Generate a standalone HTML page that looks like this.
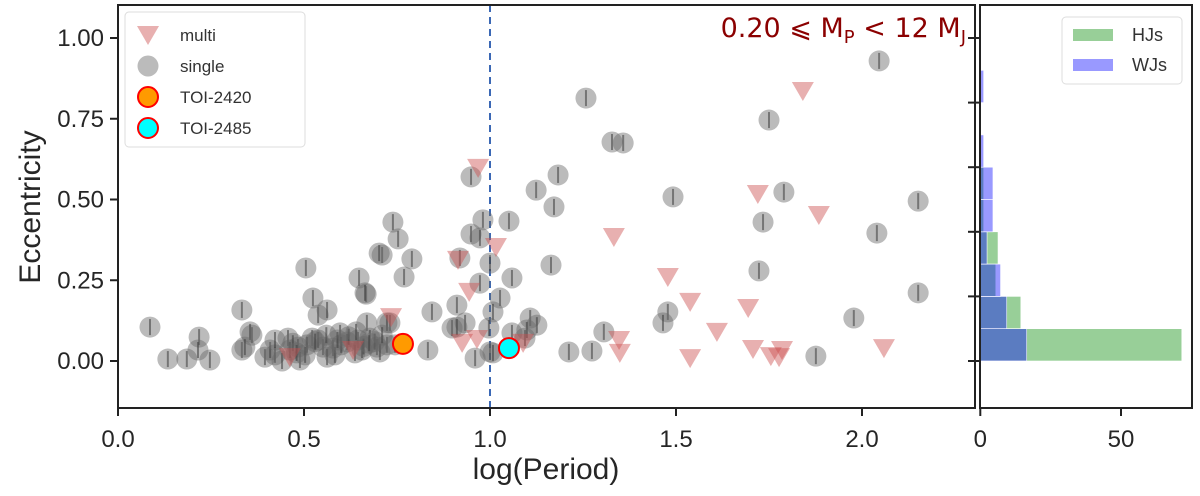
<!DOCTYPE html>
<html><head><meta charset="utf-8"><style>
html,body{margin:0;padding:0;background:#fff;}
svg{display:block;font-family:"Liberation Sans","DejaVu Sans",sans-serif;}
</style></head><body>
<svg id="chart" width="1200" height="496" viewBox="0 0 1200 496">
<g id="main-marks"></g>
<g id="hist-marks"></g>
<g id="axes"></g>
</svg>
<script>
// ---- scatter data ----
const singleLogP = [2.046,1.258,1.750,1.328,1.358,1.183,1.124,1.172,1.051,0.981,1.492,1.790,2.151,1.734,2.040,1.164,1.723,1.000,1.059,1.027,1.008,1.108,1.126,0.997,1.059,1.094,2.151,1.978,1.478,1.465,1.306,1.212,1.274,1.876,1.000,
0.949,0.739,0.753,0.949,0.973,0.710,0.790,0.919,0.769,0.973,0.911,0.844,0.898,0.933,1.099,0.833,0.960,1.008,
0.702,0.648,0.667,0.669,0.731,0.911,
0.086,0.134,0.185,0.218,0.215,0.247,0.333,0.333,0.360,0.505,0.524,0.538,0.562,
0.355,0.341,0.395,0.422,0.457,0.484,0.522,0.551,0.578,0.597,0.616,0.645,0.677,0.696,0.723,0.723,0.664,0.508,0.562,0.409,0.441,0.489,0.637,
0.462,0.503,0.538,0.583,0.656,0.704,0.745,0.422,
0.470,0.530,0.560,0.600,0.620,0.660,0.690,0.710,0.480,0.590,0.640,0.675];
const singleEcc = [0.929,0.814,0.746,0.678,0.675,0.576,0.529,0.477,0.433,0.437,0.508,0.523,0.495,0.430,0.396,0.297,0.279,0.303,0.257,0.195,0.152,0.133,0.111,0.102,0.087,0.071,0.211,0.133,0.152,0.118,0.090,0.028,0.031,0.015,0.028,
0.570,0.430,0.378,0.393,0.381,0.328,0.316,0.319,0.260,0.241,0.173,0.152,0.102,0.118,0.096,0.034,0.009,0.025,
0.334,0.257,0.207,0.118,0.118,0.105,
0.105,0.006,0.006,0.074,0.034,0.003,0.158,0.034,0.080,0.288,0.195,0.142,0.158,
0.090,0.043,0.012,0.019,0.071,0.043,0.071,0.043,0.040,0.087,0.059,0.065,0.071,0.043,0.118,0.050,0.211,0.050,0.012,0.034,0.000,0.003,0.025,
0.034,0.019,0.065,0.019,0.034,0.028,0.050,0.065,
0.055,0.060,0.080,0.050,0.075,0.045,0.060,0.080,0.025,0.065,0.090,0.055];
const multiLogP = [1.841,1.720,1.884,1.333,1.016,0.968,1.478,1.538,1.694,1.610,1.347,1.349,1.538,1.707,1.755,1.785,1.777,2.059,0.914,0.944,0.734,0.925,0.965,1.089,0.462,0.632];
const multiEcc = [0.836,0.517,0.452,0.384,0.353,0.598,0.260,0.183,0.164,0.090,0.065,0.025,0.009,0.037,0.015,0.034,0.012,0.040,0.313,0.214,0.136,0.056,0.068,0.056,0.012,0.034];
const toi2420 = [0.766,0.053];
const toi2485 = [1.051,0.040];
const xTicks = [0.0,0.5,1.0,1.5,2.0];
const xTickLabels = ["0.0","0.5","1.0","1.5","2.0"];
const yTicks = [0.0,0.25,0.5,0.75,1.0];
const yTickLabels = ["0.00","0.25","0.50","0.75","1.00"];
// ---- histogram data ----
const binEdges = [0,0.1,0.2,0.3,0.4,0.5,0.6,0.7,0.8,0.9,1.0];
const hjCounts = [71.6,14.4,5.5,6.3,1.2,1.2,0,0,0,0];
const wjCounts = [16.5,9.4,7.2,2.4,4.5,4.5,1.2,0,1.2,0.3];
const histXTicks = [0,50];
const histXTickLabels = ["0","50"];
const histYTicks = [0,0.2,0.4,0.6,0.8,1.0];

const NS="http://www.w3.org/2000/svg";
function mk(tag,attrs,parent){const e=document.createElementNS(NS,tag);for(const k in attrs)e.setAttribute(k,attrs[k]);parent.appendChild(e);return e;}
const X=v=>118+372*v;
const Y=v=>361-323*v;
const HX=v=>980.3+2.814*v;
const main=document.getElementById('main-marks');
const hist=document.getElementById('hist-marks');
const axes=document.getElementById('axes');

let dl=mk('line',{x1:X(1),x2:X(1),y1:5,y2:408,stroke:'#3b68b5','stroke-width':2,'stroke-dasharray':'7,5'},main);



for(let i=0;i<singleLogP.length;i++){
  const cx=X(singleLogP[i]),cy=Y(singleEcc[i]);
  const c=mk('circle',{cx:cx,cy:cy,r:10.5,fill:'rgba(105,105,105,0.45)'},main);
  
  
  const l=mk('line',{x1:cx,x2:cx,y1:cy-8,y2:cy+8,stroke:'rgba(60,60,60,0.55)','stroke-width':2},main);
  
  
}
for(let i=0;i<multiLogP.length;i++){
  const cx=X(multiLogP[i]),cy=Y(multiEcc[i]);
  const t=mk('polygon',{points:`${cx-11},${cy-9} ${cx+11},${cy-9} ${cx},${cy+10}`,fill:'rgba(205,80,80,0.45)'},main);
  
  
}
let o=mk('circle',{cx:X(toi2420[0]),cy:Y(toi2420[1]),r:10,fill:'#ff9a00',stroke:'#ff0000','stroke-width':2},main);


let cy2=mk('circle',{cx:X(toi2485[0]),cy:Y(toi2485[1]),r:10,fill:'#00ffff',stroke:'#ff0000','stroke-width':2},main);



for(let i=0;i<hjCounts.length;i++){
  const y0=Y(binEdges[i+1]),y1=Y(binEdges[i]);
  if(hjCounts[i]>0){const r=mk('rect',{x:HX(0),y:y0,width:HX(hjCounts[i])-HX(0),height:y1-y0,fill:'rgba(50,160,50,0.5)',stroke:'#fff','stroke-width':0.6},hist);
  
  }
}
for(let i=0;i<wjCounts.length;i++){
  const y0=Y(binEdges[i+1]),y1=Y(binEdges[i]);
  if(wjCounts[i]>0){const r=mk('rect',{x:HX(0),y:y0,width:HX(wjCounts[i])-HX(0),height:y1-y0,fill:'rgba(0,0,255,0.4)',stroke:'#fff','stroke-width':0.6},hist);
  
  }
}

let f1=mk('rect',{x:118,y:5,width:857,height:403,fill:'none',stroke:'#222','stroke-width':2},axes);


let f2=mk('rect',{x:980,y:5,width:212,height:403,fill:'none',stroke:'#222','stroke-width':2},axes);



for(let i=0;i<xTicks.length;i++){
  const x=X(xTicks[i]);
  mk('line',{x1:x,x2:x,y1:408,y2:416,stroke:'#222','stroke-width':2},axes);
  const t=mk('text',{x:x,y:447,'font-size':24,'text-anchor':'middle',fill:'#262626'},axes);
  t.textContent=xTickLabels[i];
  
  
}
for(let i=0;i<yTicks.length;i++){
  const y=Y(yTicks[i]);
  mk('line',{x1:110,x2:118,y1:y,y2:y,stroke:'#222','stroke-width':2},axes);
  const t=mk('text',{x:104,y:y+8,'font-size':24,'text-anchor':'end',fill:'#262626'},axes);
  t.textContent=yTickLabels[i];
  
  
}
for(let i=0;i<histXTicks.length;i++){
  const x=HX(histXTicks[i]);
  mk('line',{x1:x,x2:x,y1:408,y2:416,stroke:'#222','stroke-width':2},axes);
  const t=mk('text',{x:x,y:447,'font-size':24,'text-anchor':'middle',fill:'#262626'},axes);
  t.textContent=histXTickLabels[i];
  
  
}
for(let i=0;i<histYTicks.length;i++){
  const y=Y(histYTicks[i]);
  mk('line',{x1:968,x2:980,y1:y,y2:y,stroke:'#222','stroke-width':2},axes);
}
</script>
<svg style="position:absolute;left:0;top:0" width="1200" height="496">
<text x="546" y="479" font-size="30" text-anchor="middle" fill="#262626" font-family="Liberation Sans, sans-serif">log(Period)</text>
<text transform="translate(40,207) rotate(-90)" font-size="30" text-anchor="middle" fill="#262626" font-family="Liberation Sans, sans-serif">Eccentricity</text>
<text x="966" y="37" font-size="27" text-anchor="end" fill="#8b0000" font-family="DejaVu Sans, sans-serif">0.20 ⩽ M<tspan font-size="18" dy="6">P</tspan><tspan dy="-6"> &lt; 12 M</tspan><tspan font-size="18" dy="6">J</tspan></text>
<g>
<rect x="125" y="12" width="180" height="135" rx="4" fill="#fff" fill-opacity="0.85" stroke="#ddd"/>
<polygon points="137,26 159,26 148,45" fill="rgba(205,80,80,0.45)"/>
<text x="180" y="41" font-size="17" fill="#333">multi</text>
<circle cx="148" cy="66" r="10.5" fill="rgba(105,105,105,0.45)"/>
<text x="180" y="72" font-size="17" fill="#333">single</text>
<circle cx="148" cy="97" r="10" fill="#ff9a00" stroke="#ff0000" stroke-width="2"/>
<text x="180" y="103" font-size="17" fill="#333">TOI-2420</text>
<circle cx="148" cy="128" r="10" fill="#00ffff" stroke="#ff0000" stroke-width="2"/>
<text x="180" y="134" font-size="17" fill="#333">TOI-2485</text>
</g>
<g>
<rect x="1062" y="17" width="120" height="67" rx="4" fill="#fff" stroke="#ddd"/>
<rect x="1073" y="29" width="40" height="12" fill="rgba(50,160,50,0.5)"/>
<text x="1132" y="41" font-size="18" fill="#333">HJs</text>
<rect x="1073" y="59" width="40" height="12" fill="rgba(0,0,255,0.4)"/>
<text x="1132" y="71" font-size="18" fill="#333">WJs</text>
</g>
</svg>
</body></html>
